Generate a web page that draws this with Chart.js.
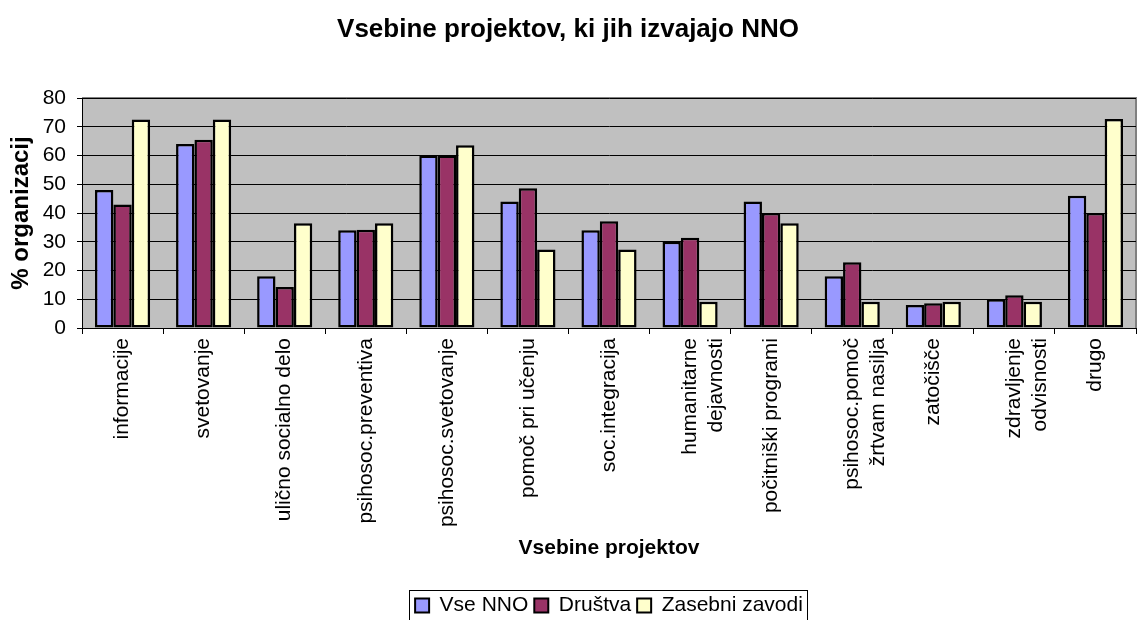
<!DOCTYPE html>
<html><head><meta charset="utf-8">
<script src="https://cdn.jsdelivr.net/npm/chart.js@4/dist/chart.umd.min.js"></script>
<style>html,body{margin:0;padding:0;background:#fff}#wrap{width:1139px;height:620px}</style>
</head><body><div id="wrap"><canvas id="c" width="1139" height="620"></canvas></div>
<script>
const categories = ["informacije","svetovanje","ulično socialno delo","psihosoc.preventiva","psihosoc.svetovanje","pomoč pri učenju","soc.integracija",["humanitarne","dejavnosti"],"počitniški programi",["psihosoc.pomoč","žrtvam nasilja"],"zatočišče",["zdravljenje","odvisnosti"],"drugo"];
const vseNNO = [48,64,18,34,60,44,34,30,44,18,8,10,46];
const drustva = [43,65.5,14.3,34.2,60,48.6,37.1,31.4,40,22.9,8.6,11.4,40];
const zasebniZavodi = [72.5,72.5,36.4,36.4,63.6,27.3,27.3,9.1,36.4,9.1,9.1,9.1,72.7];
const yTicks = [0,10,20,30,40,50,60,70,80];
const FONT = "'Liberation Sans', Arial, sans-serif";
const PAD_BOTTOM = -6;
const LEGEND_H = 37;

const plotBg = {
  id:'plotBg',
  beforeDraw(chart){
    const {ctx, chartArea:a} = chart;
    ctx.save(); ctx.fillStyle='#C0C0C0'; ctx.fillRect(a.left,a.top,a.right-a.left,a.bottom-a.top);
    ctx.strokeStyle='#808080'; ctx.lineWidth=2;
    ctx.beginPath(); ctx.moveTo(a.left,a.top); ctx.lineTo(a.right,a.top); ctx.lineTo(a.right,a.bottom); ctx.stroke();
    ctx.restore();
  },
  afterDraw(chart){
    const lg = chart.legend; const ctx = chart.ctx;
    if(!lg || !lg.legendHitBoxes.length) return;
    let minX=Infinity,maxX=-Infinity,minY=Infinity;
    lg.legendHitBoxes.forEach(b=>{minX=Math.min(minX,b.left);maxX=Math.max(maxX,b.left+b.width);minY=Math.min(minY,b.top);});
    ctx.save(); ctx.strokeStyle='#000'; ctx.lineWidth=1;
    ctx.strokeRect(Math.round(minX)-5.5, Math.round(minY)-4.5, Math.round(maxX-minX)+10, 60);
    ctx.restore();
  }
};

const mk = (label,data,color)=>({label,data,backgroundColor:color,borderColor:'#000',borderWidth:2.5,borderSkipped:false,categoryPercentage:0.68,barPercentage:1.0});

new Chart(document.getElementById('c'),{
  type:'bar',
  data:{labels:categories,datasets:[mk('Vse NNO',vseNNO,'#9999FF'),mk('Društva',drustva,'#993366'),mk('Zasebni zavodi',zasebniZavodi,'#FFFFCC')]},
  options:{
    responsive:false,animation:false,
    layout:{padding:{left:0,right:3,top:0,bottom:PAD_BOTTOM}},
    plugins:{
      title:{display:true,text:'Vsebine projektov, ki jih izvajajo NNO',color:'#000',font:{family:FONT,size:26,weight:'bold',lineHeight:1.2},padding:{top:14,bottom:52.8}},
      legend:{position:'bottom',fullSize:false,labels:{color:'#000',font:{family:FONT,size:21},boxWidth:14,boxHeight:14,padding:6,useBorderRadius:false,
        generateLabels(chart){return chart.data.datasets.map((d,i)=>({text:d.label,fillStyle:d.backgroundColor,strokeStyle:'#000',lineWidth:2,datasetIndex:i}));}}},
      tooltip:{enabled:false}
    },
    scales:{
      x:{offset:true,grid:{display:true,offset:true,drawOnChartArea:false,drawTicks:true,tickLength:6,color:'#000',lineWidth:1},border:{color:'#000',width:1},
        ticks:{color:'#000',font:{family:FONT,size:21,lineHeight:1.25},maxRotation:90,minRotation:90,autoSkip:false,padding:4},
        title:{display:true,text:'Vsebine projektov',color:'#000',font:{family:FONT,size:21,weight:'bold',lineHeight:1.2},padding:{top:0,bottom:28}},
        afterFit(s){ const ch=s.chart; const lh = (ch.legend && ch.legend.height) ? ch.legend.height : LEGEND_H; s.height = ch.height - PAD_BOTTOM - lh - 328; }},
      y:{min:0,max:80,afterBuildTicks(ax){ax.ticks=yTicks.map(v=>({value:v}));},
        grid:{color:'#000',lineWidth:1,tickLength:5,drawTicks:true},border:{color:'#000',width:1},
        ticks:{color:'#000',font:{family:FONT,size:21},padding:11},
        title:{display:true,text:'% organizacij',color:'#000',font:{family:FONT,size:24,weight:'bold',lineHeight:1.2},padding:{top:7,bottom:0}},
        afterFit(s){ s.width = 82; }}
    }
  },
  plugins:[plotBg]
});
</script></body></html>
